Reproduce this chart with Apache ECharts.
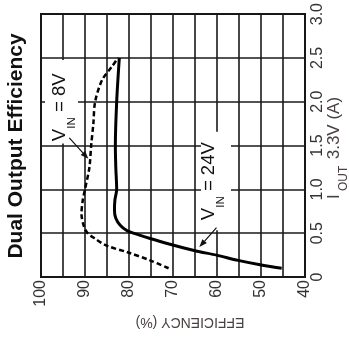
<!DOCTYPE html>
<html><head><meta charset="utf-8">
<script src="https://cdn.jsdelivr.net/npm/echarts@6/dist/echarts.min.js"></script>
<style>html,body{margin:0;padding:0;background:#fff}#c{width:349px;height:339px}</style>
</head><body><div id="c"></div>
<script>
// ---- data ----
const effTicks = [100, 90, 80, 70, 60, 50, 40];
const ioutTicks = ['0', '0.5', '1.0', '1.5', '2.0', '2.5', '3.0'];
const iout24 = [0.10, 0.14, 0.19, 0.25, 0.30, 0.38, 0.44, 0.50, 0.53, 0.59, 0.67, 0.76, 0.88, 1.00, 1.25, 1.50, 2.00, 2.50];
const eff24  = [45.3, 50.2, 55.2, 60.1, 65.0, 71.1, 75.2, 79.0, 80.5, 82.0, 83.0, 83.3, 83.2, 82.8, 83.0, 83.1, 82.8, 82.2];
const iout8  = [0.10, 0.19, 0.28, 0.36, 0.44, 0.50, 0.57, 0.72, 0.88, 1.00, 1.25, 1.50, 1.75, 2.00, 2.25, 2.40, 2.50];
const eff8   = [71.0, 75.2, 80.2, 85.2, 87.8, 89.4, 90.2, 90.8, 90.5, 90.0, 89.0, 88.6, 88.1, 87.7, 86.1, 83.9, 82.5];
const titleText = 'Dual Output Efficiency';
const xName = 'EFFICIENCY (%)';
const yNameParts = ['I', 'OUT', ' 3.3V (A)'];
const note8Text = ['V', 'IN', ' = 8V'];
const note24Text = ['V', 'IN', ' = 24V'];

// ---- layout ----
const font = 'Liberation Sans, Arial, Helvetica, sans-serif';
const chart = echarts.init(document.getElementById('c'), null, {renderer: 'canvas'});
chart.setOption({
  animation: false,
  backgroundColor: '#fff',
  grid: {left: 41, right: 44, top: 13, bottom: 62, show: true, borderColor: '#111', borderWidth: 2},
  xAxis: {
    type: 'value', min: 40, max: 100, interval: 5, inverse: true, position: 'bottom',
    axisLine: {show: false}, axisTick: {show: false},
    splitLine: {show: true, lineStyle: {color: '#1a1a1a', width: 1.6}},
    axisLabel: {rotate: 90, margin: 3, fontSize: 16, color: '#333', fontFamily: font,
      showMinLabel: true, showMaxLabel: true,
      formatter: v => effTicks.includes(v) ? String(v) : ''}
  },
  yAxis: {
    type: 'value', min: 0, max: 3, interval: 0.5, position: 'right',
    axisLine: {show: false}, axisTick: {show: false},
    splitLine: {show: true, lineStyle: {color: '#1a1a1a', width: 1.6}},
    axisLabel: {rotate: 90, margin: 5, fontSize: 16, color: '#333', fontFamily: font,
      showMinLabel: true, showMaxLabel: true,
      formatter: v => ioutTicks[Math.round(v / 0.5)]}
  },
  series: [
    {type: 'line', name: 'VIN = 24V', data: eff24.map((e, i) => [e, iout24[i]]), smooth: 0.3,
     showSymbol: false, lineStyle: {color: '#000', width: 3}, z: 4},
    {type: 'line', name: 'VIN = 8V', data: eff8.map((e, i) => [e, iout8[i]]), smooth: 0.3,
     showSymbol: false, lineStyle: {color: '#000', width: 2.5, type: [5, 3]}, z: 4}
  ]
});

const px = (e, i) => chart.convertToPixel({gridIndex: 0}, [e, i]);

function note(parts, origin, box, arrow) {
  const els = [];
  const b0 = px(box[0][0], box[0][1]), b1 = px(box[1][0], box[1][1]);
  els.push({type: 'rect', z: 1, shape: {x: Math.min(b0[0], b1[0]), y: Math.min(b0[1], b1[1]),
    width: Math.abs(b1[0] - b0[0]), height: Math.abs(b1[1] - b0[1])}, style: {fill: '#fff'}});
  const o = px(origin[0], origin[1]);
  els.push({type: 'group', z: 6, x: o[0], y: o[1], rotation: Math.PI / 2, children: [
    {type: 'text', z: 6, x: 0, y: 0, style: {text: parts[0], font: '18.5px ' + font, fill: '#111', align: 'left', verticalAlign: 'middle'}},
    {type: 'text', z: 6, x: 12.5, y: 12, style: {text: parts[1], font: '11.5px ' + font, fill: '#111', align: 'left', verticalAlign: 'middle'}},
    {type: 'text', z: 6, x: 24, y: 0, style: {text: parts[2], font: '18.5px ' + font, fill: '#111', align: 'left', verticalAlign: 'middle'}}
  ]});
  const s = px(arrow[0][0], arrow[0][1]), e = px(arrow[1][0], arrow[1][1]);
  const dx = e[0] - s[0], dy = e[1] - s[1], L = Math.hypot(dx, dy), ux = dx / L, uy = dy / L;
  const hl = 8, hw = 3;
  const bx = e[0] - ux * hl, by = e[1] - uy * hl;
  els.push({type: 'line', z: 6, shape: {x1: s[0], y1: s[1], x2: bx, y2: by}, style: {stroke: '#111', lineWidth: 1.2}});
  els.push({type: 'polygon', z: 6, shape: {points: [[e[0], e[1]], [bx - uy * hw, by + ux * hw], [bx + uy * hw, by - ux * hw]]}, style: {fill: '#111'}});
  return els;
}

const graphics = [];
graphics.push({type: 'text', z: 6, x: 16.5, y: 146, rotation: Math.PI / 2,
  style: {text: titleText, font: 'bold 21px ' + font, fill: '#111', align: 'center', verticalAlign: 'middle'}});
graphics.push({type: 'text', z: 6, x: 190, y: 322, rotation: Math.PI,
  style: {text: xName, font: '14px ' + font, fill: '#4a4040', align: 'center', verticalAlign: 'middle'}});
graphics.push({type: 'group', z: 6, x: 334, y: 199, rotation: Math.PI / 2, children: [
  {type: 'text', z: 6, x: 0, y: 0, style: {text: yNameParts[0], font: '17px ' + font, fill: '#4a4040', align: 'left', verticalAlign: 'middle'}},
  {type: 'text', z: 6, x: 8, y: 10, style: {text: yNameParts[1], font: '12px ' + font, fill: '#4a4040', align: 'left', verticalAlign: 'middle'}},
  {type: 'text', z: 6, x: 35, y: 0, style: {text: yNameParts[2], font: '17px ' + font, fill: '#4a4040', align: 'left', verticalAlign: 'middle'}}
]});
graphics.push(...note(note8Text, [95.68, 1.55], [[99.09, 2.477], [91.59, 1.523]], [[93.57, 1.588], [89.25, 1.349]]));
graphics.push(...note(note24Text, [61.82, 0.648], [[63.64, 1.659], [56.82, 0.534]], [[60.11, 0.5625], [64.02, 0.341]]));
chart.setOption({graphic: graphics});
</script>
</body></html>
